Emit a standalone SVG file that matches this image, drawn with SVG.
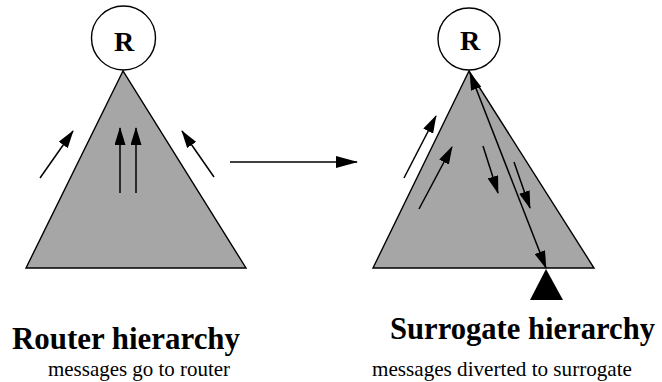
<svg xmlns="http://www.w3.org/2000/svg" width="662" height="382" viewBox="0 0 662 382">
<style>
.tri{fill:#a6a6a6;stroke:#000;stroke-width:1.4;stroke-linejoin:miter}
.circ{fill:#fff;stroke:#000;stroke-width:1.4}
.r{font-family:"Liberation Serif","Times New Roman",serif;font-weight:bold;font-size:28px;text-anchor:middle}
.title{font-family:"Liberation Serif","Times New Roman",serif;font-weight:bold;font-size:31px}
.sub{font-family:"Liberation Serif","Times New Roman",serif;font-size:22px}
.ar{stroke:#000;stroke-width:1.5;fill:none;marker-end:url(#ah)}
</style>
<defs>
<marker id="ah" markerUnits="userSpaceOnUse" markerWidth="18" markerHeight="11" refX="17" refY="5.5" orient="auto-start-reverse" viewBox="0 0 18 11">
<path d="M0,0 L18,5.5 L0,11 z" fill="#000"/>
</marker>
<marker id="ahbig" markerUnits="userSpaceOnUse" markerWidth="22" markerHeight="12" refX="21" refY="6" orient="auto" viewBox="0 0 22 12">
<path d="M0,0 L22,6 L0,12 z" fill="#000"/>
</marker>
</defs>
<g id="router-tree">
<polygon class="tri" points="123,71 26,268 246,268"/>
</g>
<g id="router-node">
<circle class="circ" cx="123.5" cy="38" r="32"/>
<text class="r" x="124" y="51">R</text>
</g>
<g id="surrogate-tree">
<polygon class="tri" points="469,71 373,268 594,268"/>
</g>
<g id="surrogate-root">
<circle class="circ" cx="469" cy="39" r="31"/>
<text class="r" x="470" y="49.5">R</text>
</g>
<g id="surrogate">
<polygon points="546,269 530,300 563,300" fill="#000"/>
</g>
<g id="connectors">
<line class="ar" x1="40" y1="178" x2="73" y2="131"/>
<line class="ar" x1="120" y1="193" x2="120" y2="128"/>
<line class="ar" x1="136" y1="193" x2="136" y2="128"/>
<line class="ar" x1="214" y1="177" x2="182" y2="131"/>
<line x1="230" y1="162" x2="357" y2="162" stroke="#000" stroke-width="1.5" marker-end="url(#ahbig)"/>
<line class="ar" x1="404" y1="178" x2="436" y2="116"/>
<line class="ar" x1="419" y1="209" x2="452" y2="147"/>
<line class="ar" x1="483" y1="146" x2="498" y2="193"/>
<line class="ar" x1="514" y1="162" x2="530" y2="208"/>
<line class="ar" x1="546" y1="268" x2="470" y2="73" marker-start="url(#ah)"/>
</g>
<g id="labels">
<text class="title" x="12" y="349" textLength="228" lengthAdjust="spacingAndGlyphs">Router hierarchy</text>
<text class="sub" x="48" y="376" textLength="182" lengthAdjust="spacingAndGlyphs">messages go to router</text>
<text class="title" x="390" y="339" textLength="265" lengthAdjust="spacingAndGlyphs">Surrogate hierarchy</text>
<text class="sub" x="372" y="376" textLength="260" lengthAdjust="spacingAndGlyphs">messages diverted to surrogate</text>
</g>
</svg>
